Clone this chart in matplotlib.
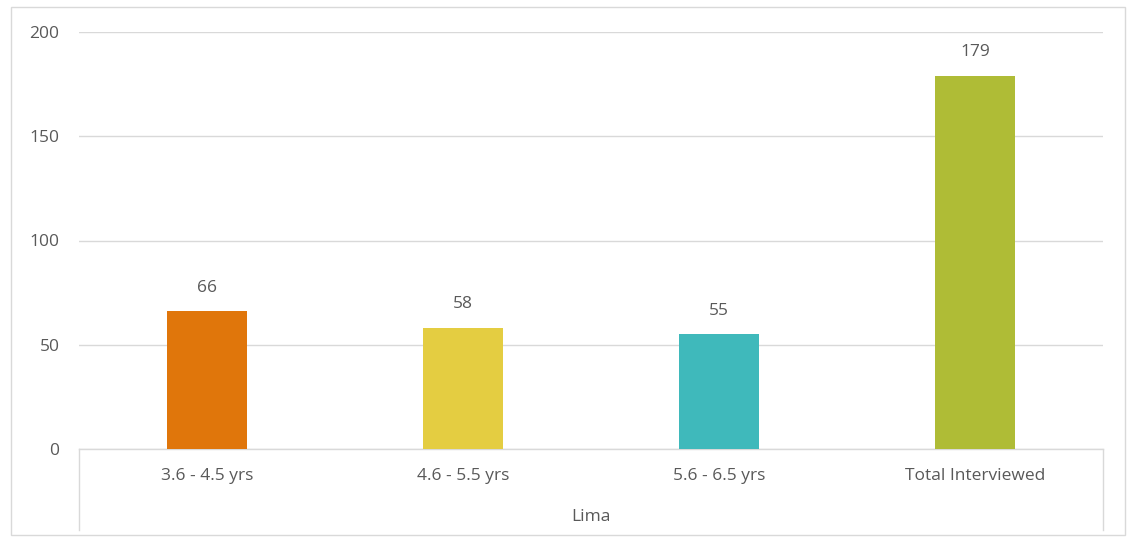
import matplotlib.pyplot as plt
from matplotlib.lines import Line2D
from matplotlib.patches import Rectangle

categories = ["3.6 - 4.5 yrs", "4.6 - 5.5 yrs", "5.6 - 6.5 yrs", "Total Interviewed"]
counts = [66, 58, 55, 179]
bar_colors = ["#E0760B", "#E4CD41", "#3FB9BB", "#AFBC36"]
group_label = "Lima"
y_ticks = [0, 50, 100, 150, 200]

W, H = 1133, 540
TEXT = "#595959"
GRID = "#D9D9D9"
FS = 12.5

plt.rcParams['font.family'] = ['Open Sans', 'DejaVu Sans']

fig = plt.figure(figsize=(W / 100, H / 100), dpi=100)
fig.patch.set_facecolor("white")

# plot area in pixel terms
left, right, top, bottom = 79, 1103, 32, 449
ax = fig.add_axes([left / W, 1 - bottom / H, (right - left) / W, (bottom - top) / H])

x = list(range(len(categories)))
ax.bar(x, counts, width=0.3125, color=bar_colors, zorder=3)
for xi, v in zip(x, counts):
    ax.annotate(f"{v}", (xi, v), xytext=(0, 17), textcoords="offset points",
                ha="center", va="center", fontsize=FS, color=TEXT)

ax.set_xlim(-0.5, len(categories) - 0.5)
ax.set_ylim(0, 200)
ax.set_yticks(y_ticks)
ax.set_yticklabels([str(t) for t in y_ticks], fontsize=FS, color=TEXT)
ax.set_xticks(x)
ax.set_xticklabels(categories, fontsize=FS, color=TEXT)
ax.tick_params(axis="y", length=0, pad=14)
ax.tick_params(axis="x", length=0, pad=14)
ax.yaxis.grid(True, color=GRID, linewidth=1, zorder=0)
for side in ["top", "right", "left"]:
    ax.spines[side].set_visible(False)
ax.spines["bottom"].set_color(GRID)
ax.spines["bottom"].set_linewidth(1)

# category group box below the axis
box_bottom = 1 - 530 / H
for px in (left, right):
    fig.add_artist(Line2D([px / W, px / W], [1 - bottom / H, box_bottom],
                          color=GRID, linewidth=1))
fig.text((left + right) / 2 / W, 1 - 517 / H, group_label, ha="center", va="center",
         fontsize=FS, color=TEXT)

# chart border
fig.add_artist(Rectangle((11 / W, 1 - 535 / H), (1125 - 11) / W, (535 - 7) / H,
                         transform=fig.transFigure, fill=False, edgecolor=GRID, linewidth=1))

fig.savefig("out.png", dpi=100)
